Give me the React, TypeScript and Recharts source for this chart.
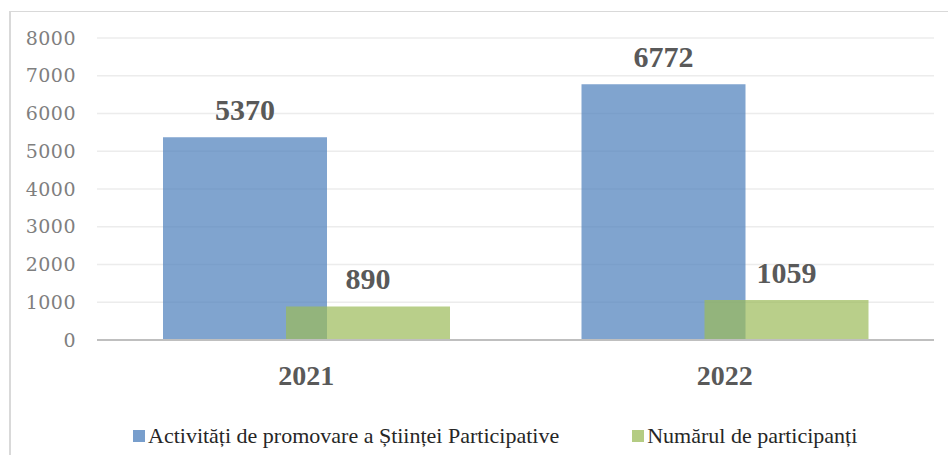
import { Bar, BarChart, CartesianGrid, LabelList, Legend, XAxis, YAxis } from "recharts";

const YEARS = ["2021", "2022"];
const ACTIVITIES = [5370, 6772];
const PARTICIPANTS = [890, 1059];
const Y_TICKS = [0, 1000, 2000, 3000, 4000, 5000, 6000, 7000, 8000];

const SERIES = [
  { key: "activities", name: "Activități de promovare a Științei Participative", color: "#4f81bd", opacity: 0.72 },
  { key: "participants", name: "Numărul de participanți", color: "#9bbb59", opacity: 0.7 },
];

const data = YEARS.map((year, i) => ({
  year,
  activities: ACTIVITIES[i],
  participants: PARTICIPANTS[i],
}));

const SERIF = '"Liberation Serif", "Times New Roman", serif';

function LegendContent() {
  return (
    <div
      style={{
        display: "flex",
        justifyContent: "flex-start",
        alignItems: "center",
        height: 30,
        paddingLeft: 133,
        fontFamily: SERIF,
        fontSize: 22,
        color: "#262626",
      }}
    >
      {SERIES.map((s, i) => (
        <div key={s.key} style={{ display: "flex", alignItems: "center", marginRight: i === 0 ? 73 : 0 }}>
          <span
            style={{
              display: "inline-block",
              width: 12,
              height: 12,
              background: s.color,
              opacity: s.opacity + 0.05,
              marginRight: 3,
            }}
          />
          <span>{s.name}</span>
        </div>
      ))}
    </div>
  );
}

export default function App() {
  return (
    <div style={{ position: "absolute", left: 0, top: 0, width: 948, height: 455, background: "#fff", overflow: "hidden" }}>
      <div
        style={{
          position: "absolute",
          left: 9,
          top: 11,
          right: 0,
          bottom: 0,
          borderTop: "1.5px solid #d9d9d9",
          borderLeft: "2px solid #d9d9d9",
        }}
      />
      <div style={{ position: "absolute", left: 0, top: 0 }}>
        <BarChart
          width={948}
          height={455}
          data={data}
          margin={{ top: 38, right: 14, left: 0, bottom: 4 }}
          barSize={164}
          barGap={-41}
        >
          <CartesianGrid vertical={false} stroke="#ececec" strokeWidth={1.5} />
          <XAxis
            dataKey="year"
            height={81}
            tickLine={false}
            axisLine={{ stroke: "#bfbfbf", strokeWidth: 2 }}
            tickMargin={19}
            tick={{ fill: "#595959", fontSize: 28, fontWeight: 700, fontFamily: SERIF }}
          />
          <YAxis
            width={97}
            domain={[0, 8000]}
            ticks={Y_TICKS}
            interval={0}
            tickLine={false}
            axisLine={false}
            tickMargin={15}
            tick={{ fill: "#7f7f7f", fontSize: 19, fontFamily: '"DejaVu Serif", serif', letterSpacing: 0.5 }}
          />
          <Legend verticalAlign="bottom" content={<LegendContent />} />
          {SERIES.map((s) => (
            <Bar
              key={s.key}
              dataKey={s.key}
              name={s.name}
              fill={s.color}
              fillOpacity={s.opacity}
              isAnimationActive={false}
            >
              <LabelList
                dataKey={s.key}
                position="top"
                offset={17}
                fill="#595959"
                style={{ fontSize: 30, fontWeight: 700, fontFamily: SERIF }}
              />
            </Bar>
          ))}
        </BarChart>
      </div>
    </div>
  );
}
